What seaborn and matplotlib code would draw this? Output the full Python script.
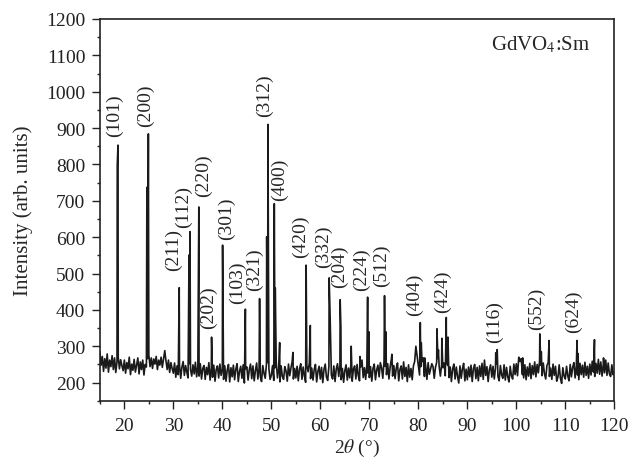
import numpy as np
import pandas as pd
import matplotlib
matplotlib.use("Agg")
import matplotlib.pyplot as plt
from matplotlib.ticker import MultipleLocator
import seaborn as sns

# background counts, every 0.25 deg from 15 to 120
bg_start, bg_step = 15.0, 0.25
background = [
    285, 248, 272, 231, 266, 240, 279, 229, 262, 244, 274, 236, 268, 228, 258, 270, 238, 263, 247, 233,
    262, 226, 255, 238, 270, 222, 251, 234, 264, 229, 248, 268, 224, 257, 236, 262, 221, 250, 243, 266,
    276, 244, 268, 239, 265, 251, 272, 236, 262, 248, 270, 242, 266, 288, 259, 236, 262, 228, 255, 239,
    226, 254, 215, 246, 222, 250, 212, 243, 258, 220, 247, 229, 213, 252, 236, 218, 249, 224, 256, 216,
    244, 218, 252, 210, 239, 247, 209, 242, 222, 255, 207, 240, 215, 248, 204, 236, 246, 213, 251, 220,
    238, 209, 246, 204, 235, 250, 202, 241, 216, 248, 208, 237, 252, 203, 231, 245, 212, 249, 199, 238,
    243, 207, 236, 251, 211, 246, 205, 233, 254, 210, 240, 217, 203, 247, 226, 212, 250, 255, 238, 209,
    220, 247, 206, 241, 256, 213, 238, 202, 246, 217, 209, 244, 232, 204, 251, 219, 240, 258, 210, 239,
    213, 245, 205, 238, 252, 209, 243, 218, 201, 247, 230, 254, 211, 240, 207, 236, 250, 202, 231, 245,
    210, 242, 200, 237, 251, 215, 206, 245, 256, 221, 210, 246, 203, 238, 252, 217, 247, 208, 239, 201,
    233, 249, 207, 240, 213, 253, 204, 237, 246, 210, 250, 219, 205, 243, 262, 214, 241, 209, 249, 226,
    214, 244, 204, 239, 251, 208, 235, 248, 216, 255, 241, 212, 258, 245, 222, 252, 210, 243, 265, 218,
    247, 211, 240, 254, 205, 236, 246, 210, 257, 217, 242, 203, 249, 215, 239, 208, 246, 258, 221, 274,
    250, 221, 244, 258, 268, 217, 246, 209, 255, 223, 238, 252, 244, 212, 242, 256, 266, 245, 218, 249,
    241, 254, 219, 258, 247, 214, 243, 203, 238, 251, 210, 243, 217, 199, 246, 212, 238, 253, 205, 237,
    208, 243, 216, 248, 203, 239, 250, 211, 242, 205, 246, 217, 253, 209, 262, 220, 244, 203, 236, 249,
    215, 245, 210, 240, 252, 217, 205, 247, 221, 212, 249, 207, 242, 216, 202, 245, 219, 210, 251, 222,
    252, 219, 246, 258, 266, 222, 213, 249, 208, 243, 218, 253, 211, 247, 222, 257, 216, 250, 227, 260,
    248, 219, 254, 224, 210, 247, 255, 217, 240, 209, 251, 220, 245, 204, 216, 249, 212, 198, 241, 218,
    210, 245, 219, 205, 250, 216, 242, 255, 213, 247, 221, 208, 253, 222, 248, 215, 256, 220, 245, 212,
    251, 221, 259, 229, 217, 253, 226, 264, 223, 257, 218, 250, 227, 262, 220, 254, 224, 217, 249, 222,
    230,
]

# peak maxima (including shoulders and small unindexed reflections)
peak_pos = [18.55, 18.7, 24.6, 24.9, 31.2, 33.2, 33.4, 35.2, 37.8, 40.05,
            44.7, 47.6, 49.05, 49.3, 50.6, 50.8, 51.7, 54.4, 57.1, 57.95,
            61.8, 62.0, 64.05, 64.2, 66.3, 68.1, 69.65, 69.9, 73.1, 73.35,
            74.6, 79.5, 80.4, 80.6, 81.3, 83.8, 84.1, 84.8, 85.7, 86.05,
            93.5, 95.8, 96.1, 100.5, 101.3, 104.8, 105.1, 106.7, 112.4, 112.6,
            115.95, 117.8]
peak_int = [797, 853, 737, 884, 461, 551, 615, 683, 325, 578,
            402, 431, 601, 910, 692, 460, 310, 283, 523, 357,
            488, 380, 428, 350, 300, 272, 435, 340, 439, 340,
            278, 300, 365, 310, 268, 348, 290, 322, 379, 325,
            262, 282, 291, 270, 268, 334, 285, 316, 316, 280,
            318, 268]

# Miller indices and where their labels sit
hkl = ["(101)", "(200)", "(211)", "(112)", "(220)", "(202)", "(301)", "(103)",
       "(321)", "(312)", "(400)", "(420)", "(332)", "(204)", "(224)", "(512)",
       "(404)", "(424)", "(116)", "(552)", "(624)"]
hkl_x = [18.05, 24.4, 30.1, 32.1, 36.2, 37.2, 40.8, 43.0, 46.5, 48.6, 51.7,
         55.9, 60.6, 64.0, 68.3, 72.4, 79.3, 84.9, 95.6, 104.1, 111.7]
hkl_y = [877, 905, 509, 629, 712, 349, 594, 418, 454, 933, 703,
         545, 518, 462, 454, 466, 385, 394, 311, 348, 339]

bg_x = bg_start + bg_step * np.arange(len(background))
df = pd.concat([
    pd.DataFrame({"two_theta": peak_pos, "intensity": peak_int}),
    pd.DataFrame({"two_theta": bg_x, "intensity": background}),
])
df["key"] = df["two_theta"].round(2)
df = df.drop_duplicates("key", keep="first").sort_values("two_theta")

sns.set_style("ticks")
plt.rcParams["font.family"] = ["Liberation Serif", "DejaVu Serif"]
plt.rcParams["mathtext.fontset"] = "stix"

fig = plt.figure(figsize=(6.32, 4.64), dpi=100)
ax = fig.add_axes([0.158, 0.134, 0.814, 0.823])
sns.lineplot(data=df, x="two_theta", y="intensity", ax=ax, color="#1a1a1a",
             lw=1.2, estimator=None, sort=True)

for lab, lx, ly in zip(hkl, hkl_x, hkl_y):
    ax.text(lx, ly, lab, rotation=90, ha="center", va="bottom", fontsize=14)

ax.text(94.8, 1131, "GdVO$_4$:Sm", ha="left", va="center", fontsize=15)

ax.set_xlim(15, 120)
ax.set_ylim(150, 1200)
ax.xaxis.set_minor_locator(MultipleLocator(5))
ax.yaxis.set_minor_locator(MultipleLocator(50))
ax.set_xticks(np.arange(20, 121, 10))
ax.set_yticks(np.arange(200, 1201, 100))
ax.tick_params(which="major", direction="out", length=5.5, width=1, labelsize=14,
               pad=5, colors="#222222")
ax.tick_params(axis="x", which="major", pad=6)
ax.tick_params(which="minor", direction="out", length=2.5, width=1, colors="#222222")
for s in ax.spines.values():
    s.set_linewidth(1.2)
    s.set_color("#222222")

ax.set_xlabel(r"2$\theta$ (°)", fontsize=14, labelpad=2)
ax.set_ylabel("Intensity (arb. units)", fontsize=15, labelpad=9.5)

fig.savefig("out.png", dpi=100)
